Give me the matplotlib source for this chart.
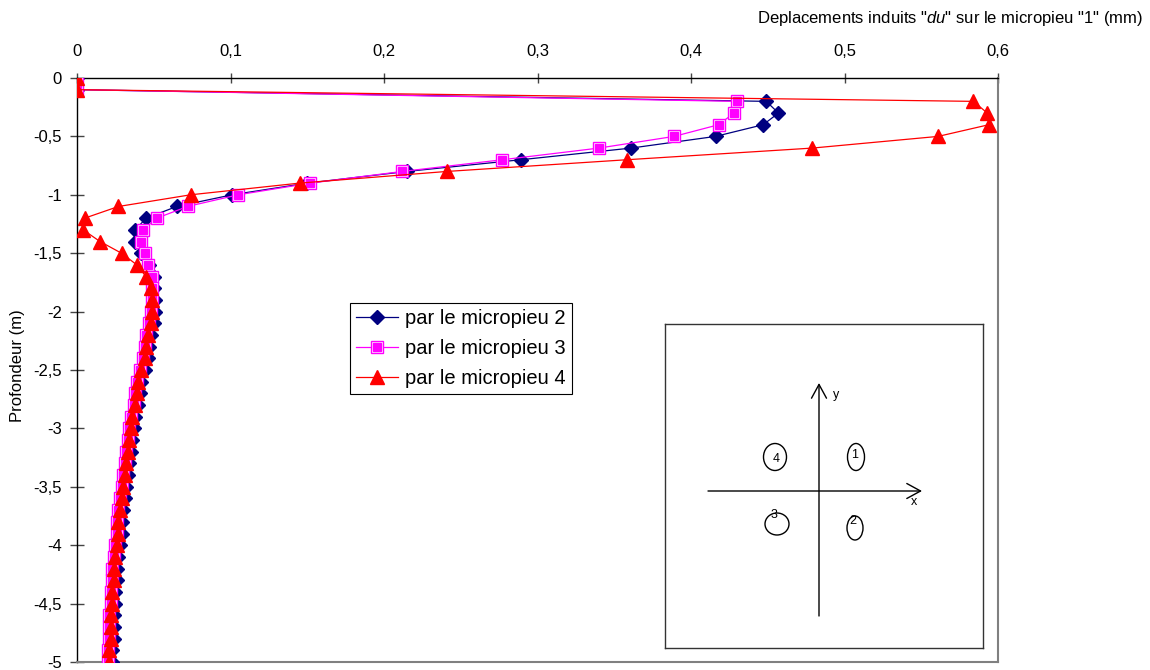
import matplotlib
matplotlib.use('Agg')
import matplotlib.pyplot as plt
from matplotlib.patches import Ellipse
from matplotlib.ticker import FuncFormatter
from matplotlib.legend_handler import HandlerTuple

plt.rcParams['font.family'] = ['Liberation Sans', 'DejaVu Sans']
plt.rcParams['mathtext.fontset'] = 'custom'
plt.rcParams['mathtext.it'] = 'Liberation Sans:italic'
plt.rcParams['mathtext.rm'] = 'Liberation Sans'

# ---------------- data ----------------
depth = [0.0, -0.1, -0.2, -0.3, -0.4, -0.5, -0.6, -0.7, -0.8, -0.9,
         -1.0, -1.1, -1.2, -1.3, -1.4, -1.5, -1.6, -1.7, -1.8, -1.9,
         -2.0, -2.1, -2.2, -2.3, -2.4, -2.5, -2.6, -2.7, -2.8, -2.9,
         -3.0, -3.1, -3.2, -3.3, -3.4, -3.5, -3.6, -3.7, -3.8, -3.9,
         -4.0, -4.1, -4.2, -4.3, -4.4, -4.5, -4.6, -4.7, -4.8, -4.9, -5.0]

du_micropieu2 = [0, 0, 0.449, 0.457, 0.447, 0.416, 0.361, 0.289, 0.215, 0.150,
                 0.101, 0.065, 0.045, 0.038, 0.038, 0.042, 0.047, 0.050,
                 0.050, 0.051, 0.051, 0.050, 0.048, 0.047, 0.046, 0.044, 0.042,
                 0.041, 0.040, 0.038, 0.037, 0.036, 0.035, 0.034, 0.033, 0.032,
                 0.031, 0.030, 0.029, 0.029, 0.028, 0.027, 0.026, 0.026, 0.025,
                 0.025, 0.024, 0.024, 0.024, 0.023, 0.023]

du_micropieu3 = [0, 0, 0.430, 0.428, 0.418, 0.389, 0.340, 0.277, 0.212, 0.152,
                 0.105, 0.072, 0.052, 0.043, 0.042, 0.044, 0.046, 0.049,
                 0.049, 0.049, 0.048, 0.047, 0.045, 0.044, 0.043, 0.041, 0.039,
                 0.038, 0.037, 0.035, 0.034, 0.033, 0.032, 0.031, 0.030, 0.029,
                 0.028, 0.027, 0.026, 0.026, 0.025, 0.024, 0.023, 0.023, 0.022,
                 0.022, 0.021, 0.021, 0.021, 0.020, 0.020]

du_micropieu4 = [0, 0, 0.584, 0.593, 0.594, 0.561, 0.479, 0.358, 0.241, 0.145,
                 0.074, 0.027, 0.005, 0.004, 0.015, 0.029, 0.039, 0.045,
                 0.048, 0.049, 0.049, 0.048, 0.046, 0.045, 0.044, 0.042, 0.040,
                 0.039, 0.038, 0.036, 0.035, 0.034, 0.033, 0.032, 0.031, 0.030,
                 0.029, 0.028, 0.027, 0.027, 0.026, 0.025, 0.024, 0.024, 0.023,
                 0.023, 0.022, 0.022, 0.022, 0.021, 0.021]

series_labels = ['par le micropieu 2', 'par le micropieu 3', 'par le micropieu 4']
x_ticks = [0, 0.1, 0.2, 0.3, 0.4, 0.5, 0.6]
y_ticks = [0, -0.5, -1, -1.5, -2, -2.5, -3, -3.5, -4, -4.5, -5]

W, H = 1150, 670
fig = plt.figure(figsize=(W / 100, H / 100), dpi=100)
ax = fig.add_axes([77 / W, 1 - 662 / H, (998 - 77) / W, (662 - 78) / H])

navy = '#000080'
magenta = '#FF00FF'
red = '#FF0000'

l2, = ax.plot(du_micropieu2, depth, color=navy, lw=0.9, marker='D', ms=7.5,
              mfc=navy, mec=navy, zorder=3)
l3a, = ax.plot(du_micropieu3, depth, color=magenta, lw=0.9, marker='s', ms=9,
               mfc='white', mec=magenta, mew=1.0, zorder=4)
l3b, = ax.plot(du_micropieu3, depth, ls='none', marker='s', ms=5.5,
               mfc=magenta, mec=magenta, zorder=4)
l4, = ax.plot(du_micropieu4, depth, color=red, lw=0.9, marker='^', ms=10,
              mfc=red, mec=red, zorder=5)

ax.set_xlim(0, 0.6)
ax.set_ylim(-5, 0)
ax.xaxis.tick_top()
ax.set_xticks(x_ticks)
ax.set_yticks(y_ticks)


def comma(v, pos):
    s = ('%g' % v).replace('.', ',')
    return '0' if s in ('-0', '0') else s


ax.xaxis.set_major_formatter(FuncFormatter(comma))
ax.yaxis.set_major_formatter(FuncFormatter(comma))
ax.tick_params(axis='x', direction='inout', length=7, width=1, colors='#444444',
               labelcolor='black', labelsize=12, pad=10)
ax.tick_params(axis='y', direction='inout', length=10, width=1, colors='#444444',
               labelcolor='black', labelsize=12, pad=6)

for s in ('top', 'left'):
    ax.spines[s].set_color('black')
    ax.spines[s].set_linewidth(1.0)
for s in ('right', 'bottom'):
    ax.spines[s].set_color('#808080')
    ax.spines[s].set_linewidth(1.5)

fig.text(1143 / W, 1 - 18 / H,
         r'Deplacements induits "$\mathit{du}$" sur le micropieu "1" (mm)',
         ha='right', va='center', fontsize=12)
fig.text(18 / W, 1 - 366 / H, 'Profondeur (m)', rotation=90,
         ha='center', va='center', fontsize=12)

leg = ax.legend([l2, (l3a, l3b), l4], series_labels,
                handler_map={tuple: HandlerTuple(ndivide=1)},
                loc='upper left', bbox_to_anchor=(350 / W, 1 - 303 / H),
                bbox_transform=fig.transFigure, borderaxespad=0,
                fontsize=14.5, fancybox=False, framealpha=1,
                edgecolor='black', handlelength=2.1, labelspacing=0.55,
                handletextpad=0.35, borderpad=0.3)
leg.get_frame().set_linewidth(0.8)

# ---------------- inset sketch ----------------
x0, x1, y0, y1 = 665, 983, 324, 648
ins = fig.add_axes([x0 / W, 1 - y1 / H, (x1 - x0) / W, (y1 - y0) / H])
ins.set_xlim(x0, x1)
ins.set_ylim(y1, y0)
ins.set_xticks([])
ins.set_yticks([])
for s in ins.spines.values():
    s.set_color('#333333')
    s.set_linewidth(1.0)

arrow = dict(arrowstyle='->,head_length=0.55,head_width=0.3', lw=1,
             color='black', mutation_scale=18, shrinkA=0, shrinkB=0)
ins.annotate('', xy=(819, 383), xytext=(819, 616), arrowprops=arrow)
ins.annotate('', xy=(922, 491), xytext=(708, 491), arrowprops=arrow)
ins.text(836, 395, 'y', fontsize=9, ha='center', va='center')
ins.text(914, 502, 'x', fontsize=9, ha='center', va='center')

ins.add_patch(Ellipse((775, 457), 23, 27, fill=False, lw=1, ec='black'))
ins.text(776, 459, '4', fontsize=9, ha='center', va='center')
ins.add_patch(Ellipse((856, 457), 17, 27, fill=False, lw=1, ec='black'))
ins.text(855, 455, '1', fontsize=9, ha='center', va='center')
ins.add_patch(Ellipse((777, 524), 24, 22, fill=False, lw=1, ec='black'))
ins.text(774, 515, '3', fontsize=9, ha='center', va='center')
ins.add_patch(Ellipse((855, 528), 16, 24, fill=False, lw=1, ec='black'))
ins.text(853, 521, '2', fontsize=9, ha='center', va='center')

fig.savefig('out.png', dpi=100)
